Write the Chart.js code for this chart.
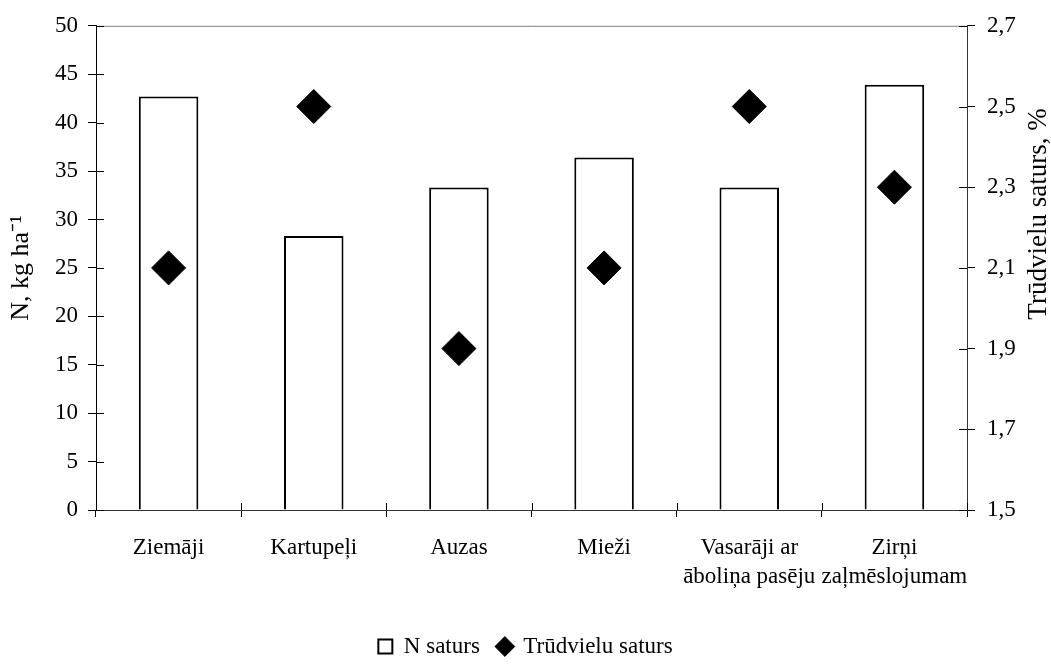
<!DOCTYPE html>
<html>
<head>
<meta charset="utf-8">
<script src="https://cdn.jsdelivr.net/npm/chart.js@4/dist/chart.umd.min.js"></script>
<style>
  body { margin: 0; background: #fff; }
  canvas { display: block; }
</style>
</head>
<body>
<canvas id="myChart" width="1051" height="668"></canvas>
<script>
const categories = ['Ziemāji', 'Kartupeļi', 'Auzas', 'Mieži', ['Vasarāji ar', 'āboliņa pasēju'], ['Zirņi', 'zaļmēslojumam']];
const nSaturs = [42.7, 28.3, 33.3, 36.4, 33.3, 43.9];       // N, kg ha-1
const trudvieluSaturs = [2.1, 2.5, 1.9, 2.1, 2.5, 2.3];      // %
const leftTicks = { min: 0, max: 50, step: 5 };
const rightTicks = { min: 1.5, max: 2.7, step: 0.2 };

const FONT = 'Liberation Serif, Times New Roman, serif';

// ticks that cross the axis line + grey top frame + right title reading upward
const frameAndTicks = {
    id: 'frameAndTicks',
    afterDraw(chart) {
        const ctx = chart.ctx;
        const area = chart.chartArea;
        const { x, y, y1 } = chart.scales;
        ctx.save();
        ctx.lineWidth = 1;

        ctx.strokeStyle = '#808080';
        ctx.beginPath();
        ctx.moveTo(area.left, area.top + 0.5);
        ctx.lineTo(area.right, area.top + 0.5);
        ctx.stroke();

        ctx.strokeStyle = '#000';
        ctx.beginPath();
        y.ticks.forEach(t => {
            const py = Math.round(y.getPixelForValue(t.value)) + 0.5;
            ctx.moveTo(area.left, py);
            ctx.lineTo(area.left + 8, py);
        });
        y1.ticks.forEach(t => {
            const py = Math.round(y1.getPixelForValue(t.value)) + 0.5;
            ctx.moveTo(area.right, py);
            ctx.lineTo(area.right - 8, py);
        });
        for (let i = 0; i <= categories.length; i++) {
            const px = Math.round(x.getPixelForValue(i - 0.5)) + 0.5;
            ctx.moveTo(px, area.bottom);
            ctx.lineTo(px, area.bottom - 7);
        }
        ctx.stroke();

        ctx.fillStyle = '#000';
        ctx.font = '27px ' + FONT;
        ctx.textAlign = 'center';
        ctx.textBaseline = 'middle';
        ctx.translate(1039, 214);
        ctx.rotate(-Math.PI / 2);
        ctx.fillText('Trūdvielu saturs, %', 0, 0);
        ctx.restore();
    }
};

const ctx = document.getElementById('myChart').getContext('2d');
new Chart(ctx, {
    type: 'bar',
    data: {
        labels: categories,
        datasets: [
            {
                label: 'N saturs',
                data: nSaturs,
                yAxisID: 'y',
                backgroundColor: '#fff',
                borderColor: '#000',
                borderWidth: 2,
                categoryPercentage: 1,
                barPercentage: 0.41,
                pointStyle: 'rect',
                order: 1
            },
            {
                type: 'line',
                label: 'Trūdvielu saturs',
                data: trudvieluSaturs,
                yAxisID: 'y1',
                showLine: false,
                pointStyle: 'rectRot',
                pointRadius: 17,
                pointHoverRadius: 17,
                backgroundColor: '#000',
                borderColor: '#000',
                borderWidth: 1,
                order: 0
            }
        ]
    },
    options: {
        responsive: false,
        animation: false,
        layout: { padding: { top: 24, left: 0, right: 0, bottom: 0 } },
        plugins: {
            tooltip: { enabled: false },
            legend: {
                position: 'bottom',
                labels: {
                    usePointStyle: true,
                    boxWidth: 14,
                    boxHeight: 14,
                    padding: 18,
                    color: '#000',
                    font: { family: FONT, size: 23 },
                    sort: (a, b) => a.datasetIndex - b.datasetIndex
                }
            }
        },
        scales: {
            x: {
                offset: true,
                grid: { display: true, drawOnChartArea: false, offset: true, tickLength: 7, color: '#000' },
                border: { color: '#333', width: 1 },
                ticks: { color: '#000', padding: 17, maxRotation: 0, autoSkip: false, font: { family: FONT, size: 23, lineHeight: 1.25 } },
                afterFit: s => { s.height = 107; }
            },
            y: {
                position: 'left',
                min: leftTicks.min,
                max: leftTicks.max,
                grid: { display: true, drawOnChartArea: false, tickLength: 8, color: '#000' },
                border: { color: '#000', width: 1 },
                ticks: { stepSize: leftTicks.step, color: '#000', padding: 10, font: { family: FONT, size: 23 } },
                title: { display: true, text: 'N, kg ha⁻¹', color: '#000', padding: { top: 6, bottom: 0 }, font: { family: FONT, size: 26 } },
                afterFit: s => { s.width = 96; }
            },
            y1: {
                position: 'right',
                min: rightTicks.min,
                max: rightTicks.max,
                grid: { display: true, drawOnChartArea: false, tickLength: 8, color: '#000' },
                border: { color: '#333', width: 1 },
                ticks: {
                    stepSize: rightTicks.step,
                    color: '#000',
                    padding: 12,
                    font: { family: FONT, size: 23 },
                    callback: v => v.toFixed(1).replace('.', ',')
                },
                afterFit: s => { s.width = 84; }
            }
        }
    },
    plugins: [frameAndTicks]
});
</script>
</body>
</html>
